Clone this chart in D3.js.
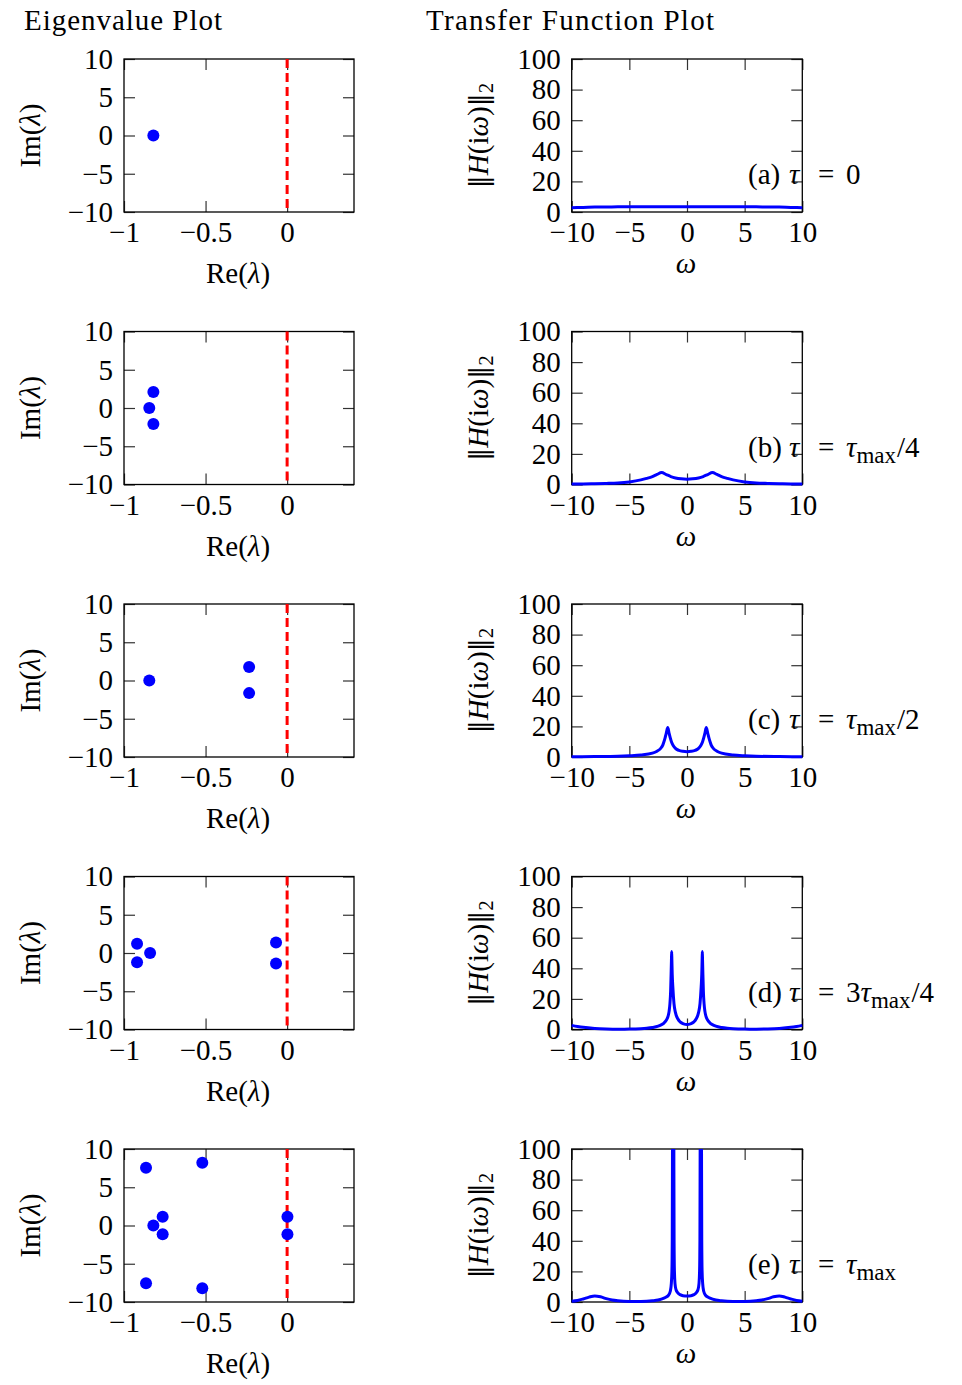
<!DOCTYPE html>
<html><head><meta charset="utf-8">
<script src="https://cdn.jsdelivr.net/npm/d3@7"></script>
<style>
body{margin:0;background:#fff}
text{font-family:"Liberation Serif","DejaVu Serif",serif;fill:#000}
</style>
</head><body>
<svg id="chart" width="962" height="1385"></svg>
<script>
// ---------- data ----------
const panelIds = ["a","b","c","d","e"];
const tauRhs = ["0","τmax/4","τmax/2","3τmax/4","τmax"];

const eigRe_a = [-0.82];
const eigIm_a = [0];
const eigRe_b = [-0.82, -0.845, -0.82];
const eigIm_b = [2.1, 0, -2.1];
const eigRe_c = [-0.845, -0.233, -0.233];
const eigIm_c = [0, 1.75, -1.65];
const eigRe_d = [-0.92, -0.92, -0.84, -0.068, -0.068];
const eigIm_d = [1.2, -1.2, 0, 1.37, -1.37];
const eigRe_e = [-0.865, -0.52, -0.763, -0.82, -0.763, -0.865, -0.52, 0.002, 0.002];
const eigIm_e = [7.55, 8.2, 1.15, 0, -1.15, -7.55, -8.2, 1.15, -1.15];

const omega_a = [-10,-9,-8,-7,-6,-5,-4,-3,-2,-1,0,1,2,3,4,5,6,7,8,9,10];
const mag_a   = [2.8,3.0,3.2,3.3,3.4,3.45,3.5,3.5,3.5,3.5,3.5,3.5,3.5,3.5,3.5,3.45,3.4,3.3,3.2,3.0,2.8];

const omega_b = [-10,-9,-8,-7,-6,-5,-4,-3.5,-3,-2.6,-2.2,-1.8,-1.4,-1,-0.5,0,0.5,1,1.4,1.8,2.2,2.6,3,3.5,4,5,6,7,8,9,10];
const mag_b   = [0.3,0.4,0.5,0.7,1.0,1.7,3.0,4.0,5.2,6.6,7.8,6.5,5.2,4.3,3.7,3.5,3.7,4.3,5.2,6.5,7.8,6.6,5.2,4.0,3.0,1.7,1.0,0.7,0.5,0.4,0.3];

const omega_c = [-10,-8,-6,-5,-4,-3,-2.6,-2.3,-2.1,-2.0,-1.9,-1.8,-1.67,-1.55,-1.45,-1.35,-1.2,-1.0,-0.7,-0.35,0,
                 0.35,0.7,1.0,1.2,1.35,1.45,1.55,1.67,1.8,1.9,2.0,2.1,2.3,2.6,3,4,5,6,8,10];
const mag_c   = [0.2,0.3,0.5,0.8,1.3,2.5,3.8,5.5,7.8,10,12.5,15.5,19.2,15.5,12.5,10,7.5,5.6,4.3,3.7,3.5,
                 3.7,4.3,5.6,7.5,10,12.5,15.5,19.2,15.5,12.5,10,7.8,5.5,3.8,2.5,1.3,0.8,0.5,0.3,0.2];

const omega_d = [-10,-9.5,-9,-8,-7,-6,-5,-4,-3.5,-3,-2.5,-2.2,-2,-1.8,-1.65,-1.55,-1.48,-1.42,-1.38,-1.35,-1.33,-1.31,-1.28,-1.23,-1.13,-1.0,-0.8,-0.6,-0.3,0,
                 0.3,0.6,0.8,1.0,1.13,1.23,1.28,1.31,1.33,1.35,1.38,1.42,1.48,1.55,1.65,1.8,2,2.2,2.5,3,3.5,4,5,6,7,8,9,9.5,10];
const mag_d   = [2.7,2.0,1.4,0.7,0.35,0.2,0.25,0.5,0.8,1.3,2.2,3.2,4.2,6,8.5,12,17,25,36,45,51,45,36,28,17,11,7,5,3.7,3.3,
                 3.7,5,7,11,17,28,36,45,51,45,36,25,17,12,8.5,6,4.2,3.2,2.2,1.3,0.8,0.5,0.25,0.2,0.35,0.7,1.4,2.0,2.7];

const omega_e = [-10,-9.5,-9,-8.5,-8,-7.5,-7,-6.5,-6,-5,-4,-3,-2.5,-2,-1.8,-1.6,-1.45,-1.36,-1.31,-1.28,-1.26,-1.2,-1.14,-1.12,-1.09,-1.04,-0.95,-0.8,-0.6,-0.35,0,
                 0.35,0.6,0.8,0.95,1.04,1.09,1.12,1.14,1.2,1.26,1.28,1.31,1.36,1.45,1.6,1.8,2,2.5,3,4,5,6,6.5,7,7.5,8,8.5,9,9.5,10];
const mag_e   = [0.5,1.0,2.0,3.2,4.0,3.4,2.2,1.3,0.8,0.4,0.4,0.8,1.3,2.5,3.3,4.5,7,12,20,40,100,400,100,40,20,12,8,6,4.8,4.1,3.9,
                 4.1,4.8,6,8,12,20,40,100,400,100,40,20,12,7,4.5,3.3,2.5,1.3,0.8,0.4,0.4,0.8,1.3,2.2,3.4,4.0,3.2,2.0,1.0,0.5];

const eigData = [[eigRe_a,eigIm_a],[eigRe_b,eigIm_b],[eigRe_c,eigIm_c],[eigRe_d,eigIm_d],[eigRe_e,eigIm_e]];
const tfData  = [[omega_a,mag_a],[omega_b,mag_b],[omega_c,mag_c],[omega_d,mag_d],[omega_e,mag_e]];

const eigXTicks = [-1,-0.5,0];
const eigYTicks = [-10,-5,0,5,10];
const tfXTicks = [-10,-5,0,5,10];
const tfYTicks = [0,20,40,60,80,100];

// ---------- layout ----------
const FS = 29;
const rowTop0 = 59, rowStep = 272.5, plotH = 153;
const eigL = 124, eigR = 354;
const tfL = 571.7, tfR = 802.3;
const svg = d3.select("#chart");
const minus = d => d < 0 ? "\u2212" + Math.abs(d) : String(d);

svg.append("text").attr("x",24).attr("y",30).attr("font-size",FS).attr("textLength",198).text("Eigenvalue Plot");
svg.append("text").attr("x",426).attr("y",30).attr("font-size",FS).attr("textLength",288).text("Transfer Function Plot");

function styleAxis(g){
  g.select(".domain").remove();
  g.selectAll(".tick line").attr("stroke","#333").attr("stroke-width",1.2);
  g.selectAll("text").attr("font-size",FS).attr("font-family",'"Liberation Serif","DejaVu Serif",serif').attr("fill","#000");
  g.attr("font-family",null).attr("font-size",null);
}

function frameAxes(g, x, y, xt, yt, top){
  const bottom = top + plotH;
  g.append("g").attr("transform",`translate(0,${bottom})`)
    .call(d3.axisBottom(x).tickValues(xt).tickSize(-11).tickPadding(9.5).tickFormat(minus)).call(styleAxis);
  g.append("g").attr("transform",`translate(0,${top})`)
    .call(d3.axisTop(x).tickValues(xt).tickSize(-11).tickFormat("")).call(styleAxis);
  g.append("g").attr("transform",`translate(${x.range()[0]},0)`)
    .call(d3.axisLeft(y).tickValues(yt).tickSize(-11).tickPadding(11).tickFormat(minus)).call(styleAxis);
  g.append("g").attr("transform",`translate(${x.range()[1]},0)`)
    .call(d3.axisRight(y).tickValues(yt).tickSize(-11).tickFormat("")).call(styleAxis);
  g.append("rect").attr("x",x.range()[0]).attr("y",top)
    .attr("width",x.range()[1]-x.range()[0]).attr("height",plotH)
    .attr("fill","none").attr("stroke","#000").attr("stroke-width",1.3);
}

panelIds.forEach((id, i) => {
  const top = rowTop0 + rowStep * i;
  const bottom = top + plotH;

  // ----- eigenvalue plot -----
  const ge = svg.append("g");
  const xe = d3.scaleLinear().domain([-1, 0.41]).range([eigL, eigR]);
  const ye = d3.scaleLinear().domain([-10, 10]).range([bottom, top]);
  frameAxes(ge, xe, ye, eigXTicks, eigYTicks, top);
  ge.append("line").attr("x1",xe(0)).attr("x2",xe(0)).attr("y1",ye(10)).attr("y2",ye(-10))
    .attr("stroke","#ff0000").attr("stroke-width",3).attr("stroke-dasharray","9,5");
  const [re, im] = eigData[i];
  ge.selectAll("circle.eig").data(re.map((r,k)=>[r,im[k]])).join("circle")
    .attr("cx",d=>xe(d[0])).attr("cy",d=>ye(d[1])).attr("r",6).attr("fill","#0000ff");
  const il = ge.append("text").attr("font-size",FS).attr("text-anchor","middle")
    .attr("transform",`translate(39.5,${(top+bottom)/2}) rotate(-90)`);
  il.append("tspan").text("Im(");
  il.append("tspan").attr("font-style","italic").text("λ");
  il.append("tspan").text(")");
  const rl = ge.append("text").attr("font-size",FS).attr("text-anchor","middle")
    .attr("x",(eigL+eigR)/2 - 1).attr("y",bottom+71);
  rl.append("tspan").text("Re(");
  rl.append("tspan").attr("font-style","italic").text("λ");
  rl.append("tspan").text(")");

  // ----- transfer function plot -----
  const gt = svg.append("g");
  const xt = d3.scaleLinear().domain([-10, 10]).range([tfL, tfR]);
  const yt = d3.scaleLinear().domain([0, 100]).range([bottom, top]);
  frameAxes(gt, xt, yt, tfXTicks, tfYTicks, top);
  const clipId = "clip" + id;
  svg.append("clipPath").attr("id",clipId).append("rect")
    .attr("x",tfL-2).attr("y",top).attr("width",tfR-tfL+4).attr("height",plotH+2);
  const [om, mg] = tfData[i];
  const line = d3.line().x(d=>xt(d[0])).y(d=>yt(d[1])).curve(d3.curveMonotoneX);
  gt.append("path").attr("clip-path",`url(#${clipId})`)
    .attr("d", line(om.map((w,k)=>[w,mg[k]])))
    .attr("fill","none").attr("stroke","#0000ff").attr("stroke-width",3).attr("stroke-linejoin","round");

  // y label
  const yl = gt.append("text").attr("font-size",FS).attr("text-anchor","middle")
    .attr("transform",`translate(488,${(top+bottom)/2}) rotate(-90)`);
  yl.append("tspan").attr("font-family","DejaVu Serif").attr("font-size",26).text("‖");
  yl.append("tspan").attr("font-style","italic").text("H");
  yl.append("tspan").text("(i");
  yl.append("tspan").attr("font-style","italic").text("ω");
  yl.append("tspan").text(")");
  yl.append("tspan").attr("font-family","DejaVu Serif").attr("font-size",26).text("‖");
  yl.append("tspan").attr("font-size",21).attr("dy",5).text("2");
  // x label
  gt.append("text").attr("font-size",FS).attr("font-style","italic").attr("text-anchor","middle")
    .attr("x",686).attr("y",bottom+61).text("ω");

  // panel label
  const lx = 748, ly = top + 125;
  gt.append("text").attr("font-size",FS).attr("x",lx).attr("y",ly).text("(" + id + ")");
  gt.append("text").attr("font-size",FS).attr("font-style","italic").attr("x",lx+41).attr("y",ly).text("τ");
  gt.append("text").attr("font-size",FS).attr("x",lx+70).attr("y",ly).attr("textLength",22).text("=");
  const rhs = gt.append("text").attr("font-size",FS).attr("x",lx+98).attr("y",ly);
  const r = tauRhs[i];
  if (r === "0") rhs.text("0");
  else {
    const m = r.match(/^(\d*)τmax(.*)$/);
    if (m[1]) rhs.append("tspan").text(m[1]);
    rhs.append("tspan").attr("font-style","italic").text("τ");
    rhs.append("tspan").attr("font-size",23).attr("dy",6).text("max");
    if (m[2]) rhs.append("tspan").attr("dy",-6).attr("dx",1).text(m[2]);
  }
});
</script>
</body></html>
